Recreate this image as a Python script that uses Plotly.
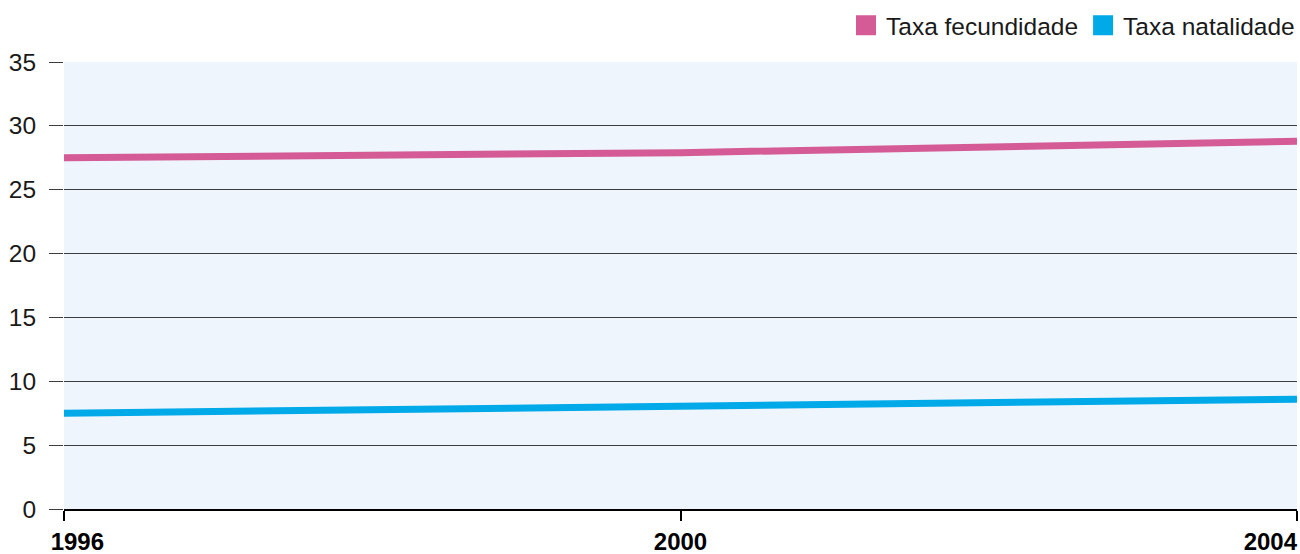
import plotly.graph_objects as go

years = [1996, 2000, 2004]
fecundidade = [27.5, 27.9, 28.8]
natalidade = [7.5, 8.1, 8.6]
y_ticks = [0, 5, 10, 15, 20, 25, 30, 35]
x_ticks = [1996, 2000, 2004]
x_labels = ["&nbsp;&nbsp;&nbsp;&nbsp;<b>1996</b>", "<b>2000</b>",
            "<b>2004</b>&nbsp;&nbsp;&nbsp;&nbsp;&nbsp;&nbsp;&nbsp;&nbsp;"]

PINK = "#D45B96"
BLUE = "#00A9E8"
FONT = "Liberation Sans, Arial, Helvetica, sans-serif"

fig = go.Figure()
for name, vals, col in [("Taxa fecundidade", fecundidade, PINK), ("Taxa natalidade", natalidade, BLUE)]:
    fig.add_trace(go.Scatter(x=years, y=vals, mode="lines", line=dict(color=col, width=7),
                             showlegend=False, hoverinfo="x+y", name=name))
    fig.add_trace(go.Scatter(x=[None], y=[None], mode="markers", name=name,
                             marker=dict(symbol="square", color=col, size=16,
                                         line=dict(color=col, width=4))))

fig.update_layout(
    width=1300, height=554,
    margin=dict(l=64, r=3, t=62, b=45, autoexpand=False),
    paper_bgcolor="white",
    plot_bgcolor="#EEF5FC",
    font=dict(family=FONT, size=24.5, color="#1a1a1a"),
    legend=dict(orientation="h", x=1.0, xanchor="right", xref="container",
                y=0.995, yanchor="top", yref="container",
                font=dict(size=24.5), itemwidth=30, traceorder="normal",
                bgcolor="rgba(0,0,0,0)", borderwidth=0),
    showlegend=True,
)
fig.update_xaxes(range=[1996, 2004], tickvals=x_ticks, ticktext=x_labels,
                 ticklabeloverflow="allow", automargin=False, ticklabelstandoff=0,
                 showgrid=False, showline=True, linecolor="black", linewidth=2,
                 ticks="outside", ticklen=10, tickwidth=2, tickcolor="black",
                 tickfont=dict(size=24, color="black"), zeroline=False)
fig.update_yaxes(range=[0, 35], tickvals=y_ticks, showgrid=True, gridcolor="#3c3c3c", gridwidth=1,
                 ticks="outside", ticklen=14, tickcolor="#3c3c3c", tickwidth=1,
                 ticklabelstandoff=8, automargin=False,
                 tickfont=dict(size=24.5), zeroline=False, showline=False)

fig.write_html("out.html")
